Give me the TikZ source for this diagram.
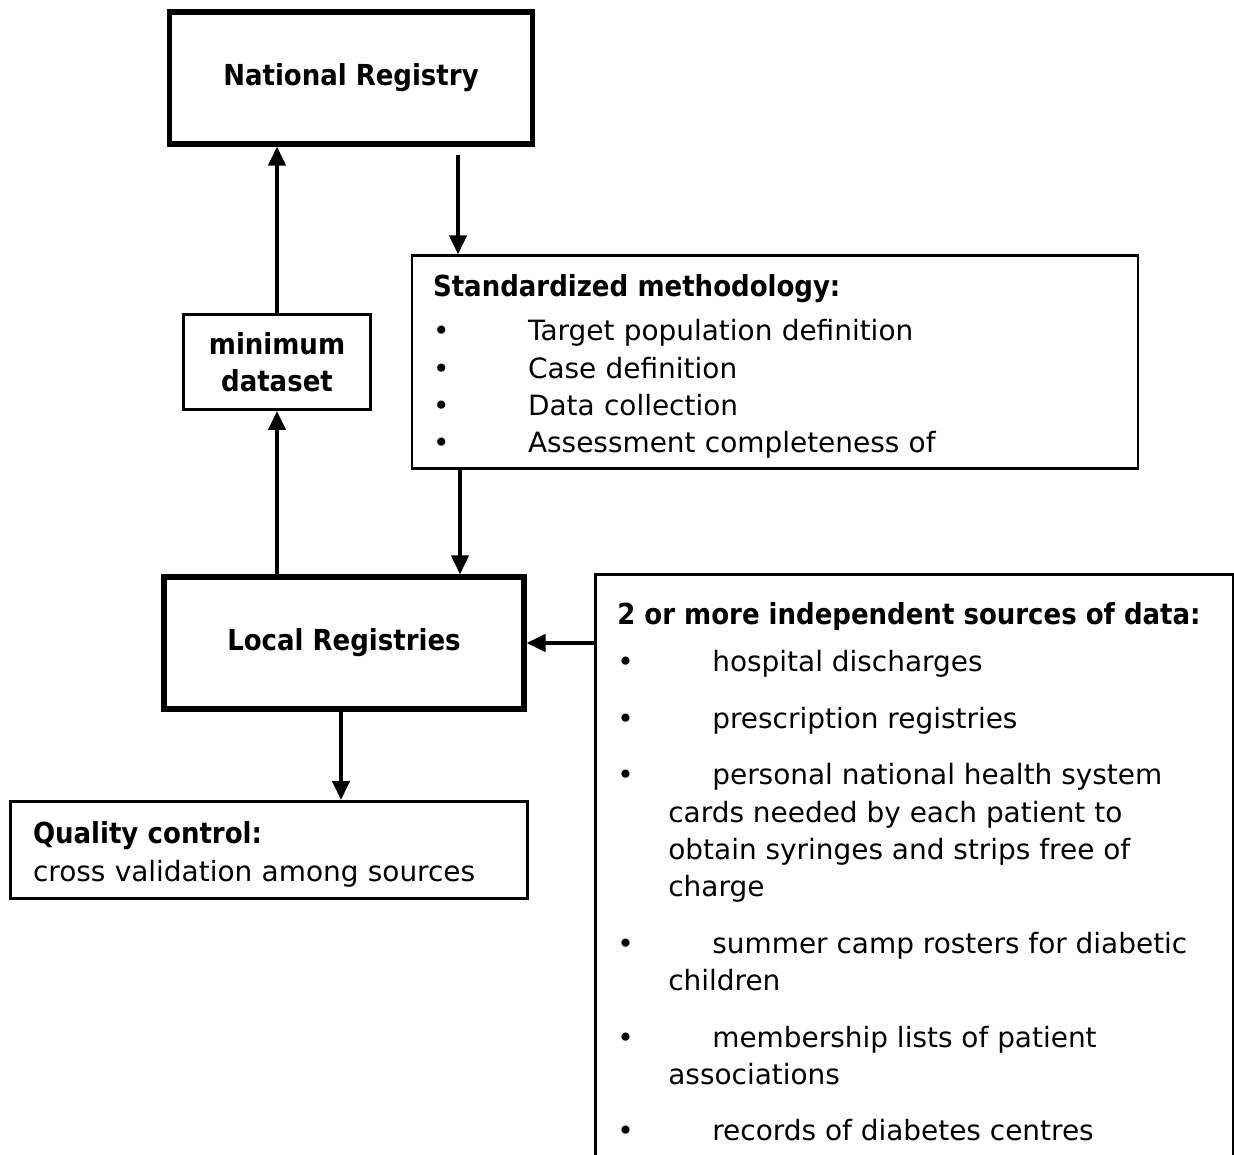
\documentclass[tikz,border=0pt]{standalone}
\usepackage{fontspec}
\setmainfont{DejaVu Sans}[BoldFont={DejaVu Sans Condensed Bold},
    BoldFeatures={Scale=1.035}]
\usetikzlibrary{positioning,arrows.meta}
\newcommand{\itm}{\makebox[1.9cm][l]{\textbullet}}
\newcommand{\cnt}{\hspace*{1.02cm}}

\begin{document}
\begin{tikzpicture}[x=0.02cm, y=-0.02cm,
        font=\fontsize{15.9pt}{21.3pt}\selectfont,
        arr/.style ={-{Triangle[length=0.38cm,width=0.34cm]}, line width=2.3pt},
        bigbox/.style={draw, line width=2.9pt, minimum height=2.64cm,
            font=\fontsize{15.9pt}{21.3pt}\selectfont\bfseries},
        midbox/.style={draw, line width=1.7pt},
        thinbox/.style={draw, line width=1.2pt},
        lst/.style={align=left, inner sep=0pt, anchor=north west},]

    \useasboundingbox (0,0) rectangle (1234,1155);

    \node[bigbox, minimum width=7.26cm] (NR) at (351,78) {National Registry};
    \node[midbox, align=center, minimum width=3.74cm, minimum height=1.9cm,
        font=\fontsize{15.9pt}{21.3pt}\selectfont\bfseries] (MD) at (277,362)
        {minimum\\dataset};
    \node[thinbox, text width=13.68cm, inner xsep=0.42cm, inner ysep=0.1cm,
        align=left, minimum height=4.26cm] (SM) at (775,362)
        {\rule{0pt}{0.62cm}\textbf{Standardized methodology:}\\[0.14cm]
        \itm Target population definition\\
        \itm Case definition\\
        \itm Data collection\\
        \itm Assessment completeness of};
    \node[bigbox, minimum width=7.2cm] (LR) at (344,643) {Local Registries};
    \node[midbox, text width=9.44cm, inner xsep=0.46cm, inner ysep=0.1cm,
        align=left, minimum height=1.94cm] (QC) at (269,850)
        {\rule{0pt}{0.62cm}\textbf{Quality control:}\\cross validation among sources};

    \node[midbox, anchor=north west, minimum width=12.76cm,
        minimum height=12cm] (SRC) at (594,573) {};
    \node[lst] (SRCtxt) at (617,602)
        {\textbf{2 or more independent sources of data:}\\[0.2cm]
        \itm hospital discharges\\[0.38cm]
        \itm prescription registries\\[0.38cm]
        \itm personal national health system\\
        \cnt cards needed by each patient to\\
        \cnt obtain syringes and strips free of\\
        \cnt charge\\[0.38cm]
        \itm summer camp rosters for diabetic\\
        \cnt children\\[0.38cm]
        \itm membership lists of patient\\
        \cnt associations\\[0.38cm]
        \itm records of diabetes centres};

    \coordinate (c1) at (458,0);
    \coordinate (c2) at (460,0);
    \coordinate (c3) at (341,0);

    \draw[arr] (MD.north) -- (MD.north |- NR.south);
    \draw[arr] (LR.north -| MD) -- (MD.south);
    \draw[arr, shorten <=0.16cm] (NR.south -| c1) -- (SM.north -| c1);
    \draw[arr] (SM.south -| c2) -- (LR.north -| c2);
    \draw[arr] (SRC.west |- LR) -- (LR.east);
    \draw[arr] (LR.south -| c3) -- (QC.north -| c3);
\end{tikzpicture}
\end{document}
